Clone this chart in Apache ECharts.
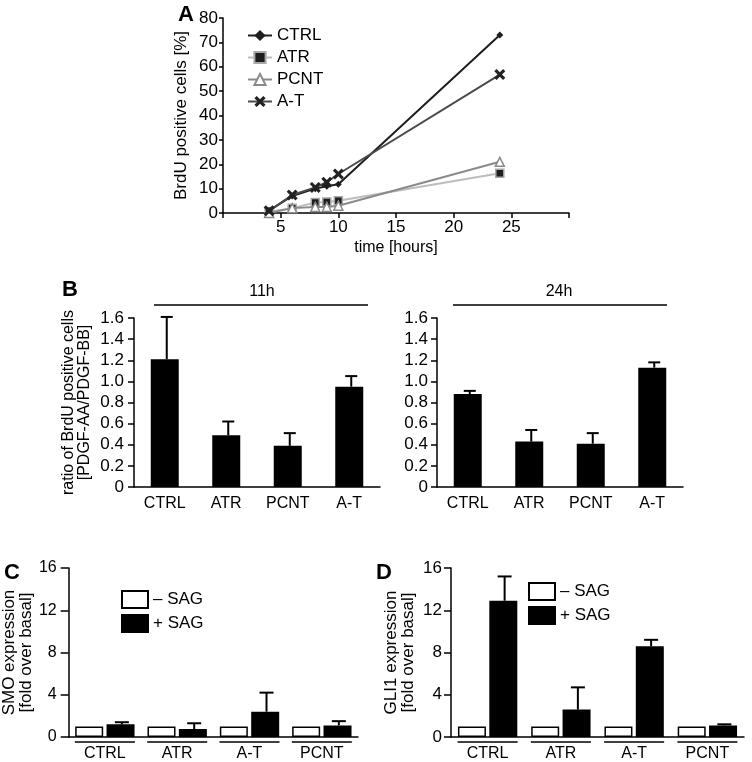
<!DOCTYPE html>
<html>
<head>
<meta charset="utf-8">
<script src="https://cdn.jsdelivr.net/npm/echarts@6/dist/echarts.min.js"></script>
<style>
  html, body { margin: 0; padding: 0; background: #fff; }
  #chart { width: 752px; height: 762px; }
</style>
</head>
<body>
<div id="chart"></div>
<script>
// A: BrdU time course
var timeHours = [4, 6, 8, 9, 10, 24];
var ctrlBrdU = [1, 7, 10, 11, 11.8, 73];
var atrBrdU = [0.5, 2, 4.3, 4.5, 5, 16.3];
var pcntBrdU = [0, 2, 2.5, 2.5, 3, 21];
var atBrdU = [0.9, 7.4, 10.5, 12.6, 16, 56.8];

// B: ratio PDGF-AA / PDGF-BB
var cellLines = ['CTRL', 'ATR', 'PCNT', 'A-T'];
var ratio11h = [1.21, 0.49, 0.39, 0.95];
var ratio11hTop = [1.61, 0.62, 0.51, 1.05];
var ratio24h = [0.88, 0.43, 0.41, 1.13];
var ratio24hTop = [0.91, 0.54, 0.51, 1.18];

// C, D: SAG response
var sagLines = ['CTRL', 'ATR', 'A-T', 'PCNT'];
var smoMinus = [1, 1, 1, 1];
var smoPlus = [1.2, 0.75, 2.4, 1.1];
var smoPlusTop = [1.4, 1.3, 4.2, 1.5];
var gliMinus = [1, 1, 1, 1];
var gliPlus = [12.9, 2.6, 8.6, 1.1];
var gliPlusTop = [15.2, 4.7, 9.2, 1.2];

var FONT = '"Liberation Sans", Arial, sans-serif';

function pairs(xs, ys) {
  return xs.map(function (x, i) { return [x, ys[i]]; });
}
function errData(vals, tops) {
  return vals.map(function (v, i) { return [i, v, tops[i]]; });
}
function errBar(offset, cap) {
  return function (params, api) {
    var base = api.coord([api.value(0), api.value(1)]);
    var top = api.coord([api.value(0), api.value(2)]);
    var x = base[0] + offset;
    return {
      type: 'group',
      children: [
        { type: 'line', shape: { x1: x, y1: base[1], x2: x, y2: top[1] }, style: { stroke: '#000', lineWidth: 2 } },
        { type: 'line', shape: { x1: x - cap, y1: top[1], x2: x + cap, y2: top[1] }, style: { stroke: '#000', lineWidth: 2 } }
      ]
    };
  };
}
function underline(params, api) {
  var p = api.coord([api.value(0), 0]);
  return {
    type: 'line',
    shape: { x1: p[0] - 30, y1: p[1] + 5, x2: p[0] + 30, y2: p[1] + 5 },
    style: { stroke: '#000', lineWidth: 1.5 }
  };
}

var axisLine = { lineStyle: { color: '#000', width: 1.5 } };
var axisTick = { length: 5, lineStyle: { color: '#000', width: 1.5 } };
function label(extra) {
  var o = { color: '#000', fontSize: 16, fontFamily: FONT };
  for (var k in extra) o[k] = extra[k];
  return o;
}
function nameStyle(size) {
  return { color: '#000', fontSize: size, fontFamily: FONT, lineHeight: size };
}
function yLine() { return { show: true, lineStyle: { color: '#000', width: 1.5 } }; }
function yTick(len) { return { show: true, length: len, lineStyle: { color: '#000', width: 1.5 } }; }
function ratioFmt(v) { return v === 0 ? '0' : v.toFixed(1); }

var chart = echarts.init(document.getElementById('chart'));

var option = {
  animation: false,
  backgroundColor: '#fff',
  textStyle: { fontFamily: FONT },
  grid: [
    { left: 223, top: 18, width: 346, height: 195 },
    { left: 134, top: 318, width: 246, height: 169 },
    { left: 437, top: 318, width: 246, height: 169 },
    { left: 64, top: 568, width: 294, height: 170 },
    { left: 451, top: 568, width: 293, height: 169 }
  ],
  xAxis: [
    {
      gridIndex: 0, type: 'value', min: 0, max: 30, interval: 5,
      axisLine: axisLine, axisTick: axisTick, splitLine: { show: false },
      axisLabel: label({ margin: 6, fontSize: 17, formatter: function (v) { return v === 0 || v === 30 ? '' : v; } }),
      name: 'time [hours]', nameLocation: 'middle', nameGap: 27, nameTextStyle: nameStyle(16)
    },
    {
      gridIndex: 1, type: 'category', data: cellLines,
      axisLine: axisLine, axisTick: { show: false }, axisLabel: label({ margin: 9 })
    },
    {
      gridIndex: 2, type: 'category', data: cellLines,
      axisLine: axisLine, axisTick: { show: false }, axisLabel: label({ margin: 9 })
    },
    {
      gridIndex: 3, type: 'category', data: sagLines,
      axisLine: axisLine, axisTick: { show: false }, axisLabel: label({ margin: 9 })
    },
    {
      gridIndex: 4, type: 'category', data: sagLines,
      axisLine: axisLine, axisTick: { show: false }, axisLabel: label({ margin: 9 })
    }
  ],
  yAxis: [
    {
      gridIndex: 0, type: 'value', min: 0, max: 80, interval: 10,
      axisLine: yLine(), axisTick: yTick(4), splitLine: { show: false },
      axisLabel: label({ margin: 5, fontSize: 17 }),
      name: 'BrdU positive cells [%]', nameLocation: 'middle', nameGap: 33, nameTextStyle: nameStyle(17)
    },
    {
      gridIndex: 1, type: 'value', min: 0, max: 1.6, interval: 0.2,
      axisLine: yLine(), axisTick: yTick(6), splitLine: { show: false },
      axisLabel: label({ margin: 10, fontSize: 17, formatter: ratioFmt }),
      name: 'ratio of BrdU positive cells\n[PDGF-AA/PDGF-BB]', nameLocation: 'middle', nameGap: 41, nameTextStyle: nameStyle(16)
    },
    {
      gridIndex: 2, type: 'value', min: 0, max: 1.6, interval: 0.2,
      axisLine: yLine(), axisTick: yTick(6), splitLine: { show: false },
      axisLabel: label({ margin: 9, fontSize: 17, formatter: ratioFmt })
    },
    {
      gridIndex: 3, type: 'value', min: 0, max: 16, interval: 4,
      axisLine: yLine(), axisTick: yTick(8), splitLine: { show: false },
      axisLabel: label({ margin: 12, fontSize: 16 }),
      name: 'SMO expression\n[fold over basal]', nameLocation: 'middle', nameGap: 33, nameTextStyle: nameStyle(17)
    },
    {
      gridIndex: 4, type: 'value', min: 0, max: 16, interval: 4,
      axisLine: yLine(), axisTick: yTick(7), splitLine: { show: false },
      axisLabel: label({ margin: 9, fontSize: 17 }),
      name: 'GLI1 expression\n[fold over basal]', nameLocation: 'middle', nameGap: 34, nameTextStyle: nameStyle(17)
    }
  ],
  legend: [
    {
      data: ['CTRL', 'ATR', 'PCNT', 'A-T'], orient: 'vertical', left: 242, top: 22,
      itemWidth: 24, itemHeight: 14, itemGap: 5,
      textStyle: { color: '#000', fontSize: 17, fontFamily: FONT }
    },
    {
      data: ['– SAG', '+ SAG'], orient: 'vertical', left: 116, top: 585,
      itemWidth: 26, itemHeight: 17, itemGap: 5, icon: 'rect',
      textStyle: { color: '#000', fontSize: 17, fontFamily: FONT }
    },
    {
      data: ['– SAG', '+ SAG'], orient: 'vertical', left: 523, top: 577,
      itemWidth: 26, itemHeight: 17, itemGap: 5, icon: 'rect',
      textStyle: { color: '#000', fontSize: 17, fontFamily: FONT }
    }
  ],
  graphic: [
    { type: 'text', left: 178, top: 4, style: { text: 'A', fontSize: 22, fontWeight: 'bold', fontFamily: FONT, fill: '#000' } },
    { type: 'text', left: 62, top: 279, style: { text: 'B', fontSize: 22, fontWeight: 'bold', fontFamily: FONT, fill: '#000' } },
    { type: 'text', left: 4, top: 562, style: { text: 'C', fontSize: 22, fontWeight: 'bold', fontFamily: FONT, fill: '#000' } },
    { type: 'text', left: 376, top: 562, style: { text: 'D', fontSize: 22, fontWeight: 'bold', fontFamily: FONT, fill: '#000' } },
    { type: 'line', shape: { x1: 154, y1: 305, x2: 368, y2: 305 }, style: { stroke: '#000', lineWidth: 1.5 } },
    { type: 'text', x: 262, y: 292, style: { text: '11h', fontSize: 16, fontFamily: FONT, fill: '#000', textAlign: 'center', textVerticalAlign: 'middle' } },
    { type: 'line', shape: { x1: 453, y1: 305, x2: 667, y2: 305 }, style: { stroke: '#000', lineWidth: 1.5 } },
    { type: 'text', x: 559, y: 292, style: { text: '24h', fontSize: 16, fontFamily: FONT, fill: '#000', textAlign: 'center', textVerticalAlign: 'middle' } }
  ],
  series: [
    {
      name: 'CTRL', type: 'line', xAxisIndex: 0, yAxisIndex: 0, data: pairs(timeHours, ctrlBrdU),
      symbol: 'diamond', symbolSize: 7, z: 5,
      lineStyle: { color: '#1e1e1e', width: 2 }, itemStyle: { color: '#1e1e1e' }
    },
    {
      name: 'ATR', type: 'line', xAxisIndex: 0, yAxisIndex: 0, data: pairs(timeHours, atrBrdU),
      symbol: 'rect', symbolSize: 8, z: 3,
      lineStyle: { color: '#bdbdbd', width: 2 }, itemStyle: { color: '#1e1e1e', borderColor: '#a8a8a8', borderWidth: 1.5 }
    },
    {
      name: 'PCNT', type: 'line', xAxisIndex: 0, yAxisIndex: 0, data: pairs(timeHours, pcntBrdU),
      symbol: 'triangle', symbolSize: 9, z: 4,
      lineStyle: { color: '#8a8a8a', width: 2 }, itemStyle: { color: '#fff', borderColor: '#8a8a8a', borderWidth: 1.5 }
    },
    {
      name: 'A-T', type: 'line', xAxisIndex: 0, yAxisIndex: 0, data: pairs(timeHours, atBrdU),
      symbol: 'path://M0,2 L2,0 L5,3 L8,0 L10,2 L7,5 L10,8 L8,10 L5,7 L2,10 L0,8 L3,5 Z', symbolSize: 11, z: 6,
      lineStyle: { color: '#4a4a4a', width: 2 }, itemStyle: { color: '#222' }
    },

    {
      type: 'bar', xAxisIndex: 1, yAxisIndex: 1, data: ratio11h, barWidth: 28,
      itemStyle: { color: '#000' }
    },
    {
      type: 'custom', xAxisIndex: 1, yAxisIndex: 1, data: errData(ratio11h, ratio11hTop),
      renderItem: errBar(2, 6), z: 3
    },
    {
      type: 'bar', xAxisIndex: 2, yAxisIndex: 2, data: ratio24h, barWidth: 28,
      itemStyle: { color: '#000' }
    },
    {
      type: 'custom', xAxisIndex: 2, yAxisIndex: 2, data: errData(ratio24h, ratio24hTop),
      renderItem: errBar(2, 6), z: 3
    },

    {
      name: '– SAG', type: 'bar', xAxisIndex: 3, yAxisIndex: 3, data: smoMinus, barWidth: 28, barGap: '12%',
      itemStyle: { color: '#fff', borderColor: '#000', borderWidth: 1.5 }
    },
    {
      name: '+ SAG', type: 'bar', xAxisIndex: 3, yAxisIndex: 3, data: smoPlus, barWidth: 28, barGap: '12%',
      itemStyle: { color: '#000', borderColor: '#000', borderWidth: 1.5 }
    },
    {
      type: 'custom', xAxisIndex: 3, yAxisIndex: 3, data: errData(smoPlus, smoPlusTop),
      renderItem: errBar(17, 7), z: 3
    },
    {
      type: 'custom', xAxisIndex: 3, yAxisIndex: 3, data: sagLines.map(function (c, i) { return [i, 0]; }),
      renderItem: underline, clip: false, z: 3
    },
    {
      name: '– SAG', type: 'bar', xAxisIndex: 4, yAxisIndex: 4, data: gliMinus, barWidth: 28, barGap: '12%',
      itemStyle: { color: '#fff', borderColor: '#000', borderWidth: 1.5 }
    },
    {
      name: '+ SAG', type: 'bar', xAxisIndex: 4, yAxisIndex: 4, data: gliPlus, barWidth: 28, barGap: '12%',
      itemStyle: { color: '#000', borderColor: '#000', borderWidth: 1.5 }
    },
    {
      type: 'custom', xAxisIndex: 4, yAxisIndex: 4, data: errData(gliPlus, gliPlusTop),
      renderItem: errBar(17, 7), z: 3
    },
    {
      type: 'custom', xAxisIndex: 4, yAxisIndex: 4, data: sagLines.map(function (c, i) { return [i, 0]; }),
      renderItem: underline, clip: false, z: 3
    }
  ]
};

chart.setOption(option);
</script>
</body>
</html>
